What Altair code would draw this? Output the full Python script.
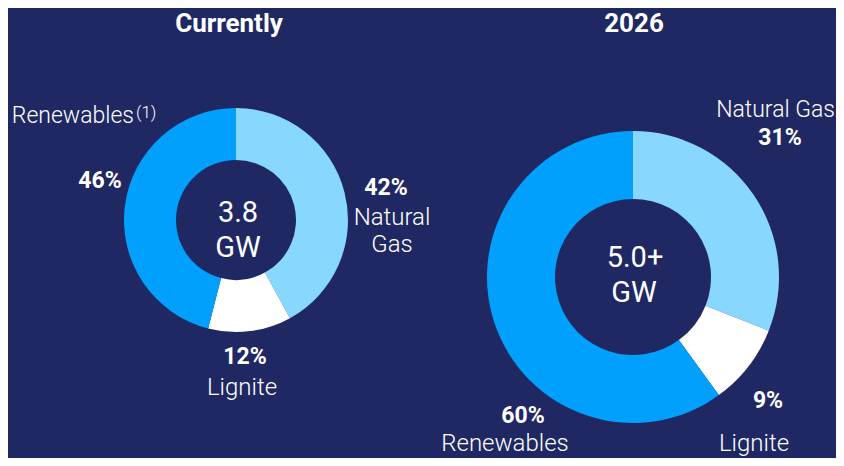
import altair as alt
import pandas as pd

BG = "#1f2862"
categories = ["Natural Gas", "Lignite", "Renewables"]
colors = ["#87d7ff", "#ffffff", "#00a0fc"]
current_values = [42, 12, 46]
future_values = [31, 9, 60]
titles = ["Currently", "2026"]
center_current = ["3.8", "GW"]
center_future = ["5.0+", "GW"]

FONT = "Roboto"

def donut(values, cx, cy, r_out, r_in):
    df = pd.DataFrame({"category": categories, "value": values})
    return (
        alt.Chart(df)
        .transform_window(idx="row_number()")
        .mark_arc(x=cx, y=cy, outerRadius=r_out, innerRadius=r_in)
        .encode(
            theta=alt.Theta("value:Q", stack=True),
            order=alt.Order("idx:Q"),
            color=alt.Color("category:N",
                            scale=alt.Scale(domain=categories, range=colors),
                            legend=None),
        )
    )

def label(t, x, y, size=24, weight=300, align="center"):
    return (
        alt.Chart(pd.DataFrame({"t": [t]}))
        .mark_text(x=x, y=y, fontSize=size, fontWeight=weight, font=FONT,
                   color="white", align=align, baseline="alphabetic")
        .encode(text="t:N")
    )

pct = lambda v: f"{v}%"
PS = 23  # percentage font size

layers = [
    donut(current_values, 228, 212, 112, 60),
    donut(future_values, 625, 269, 146, 78),
    # titles
    label(titles[0], 221, 24, 26, "bold"),
    label(titles[1], 626, 24, 26, "bold"),
    # centers
    label(center_current[0], 230, 214, 29, 400),
    label(center_current[1], 230, 249, 29, 400),
    label(center_future[0], 627, 259, 29, 400),
    label(center_future[1], 626, 294, 29, 400),
    # left labels
    label(categories[2], 126, 115, 23, 300, "right"),
    label("(1)", 128, 110, 17, 300, "left"),
    label(pct(current_values[2]), 92, 180, PS, "bold"),
    label(pct(current_values[0]), 378, 187, PS, "bold"),
    label("Natural", 384, 217),
    label("Gas", 384, 244),
    label(pct(current_values[1]), 237, 356, PS, "bold"),
    label(categories[1], 234, 387),
    # right labels
    label(categories[0], 827, 109, 23, 300, "right"),
    label(pct(future_values[0]), 772, 137, PS, "bold"),
    label(pct(future_values[1]), 760, 400, PS, "bold"),
    label(pct(future_values[2]), 515, 415, PS, "bold"),
    label(categories[2], 497, 443),
    label(categories[1], 746, 443),
]

chart = (
    alt.layer(*layers)
    .properties(width=828, height=450, autosize="none", padding=0, background=BG)
    .configure_view(stroke=None)
)

chart.save("out.html", embed_options={"renderer": "svg", "actions": False})
